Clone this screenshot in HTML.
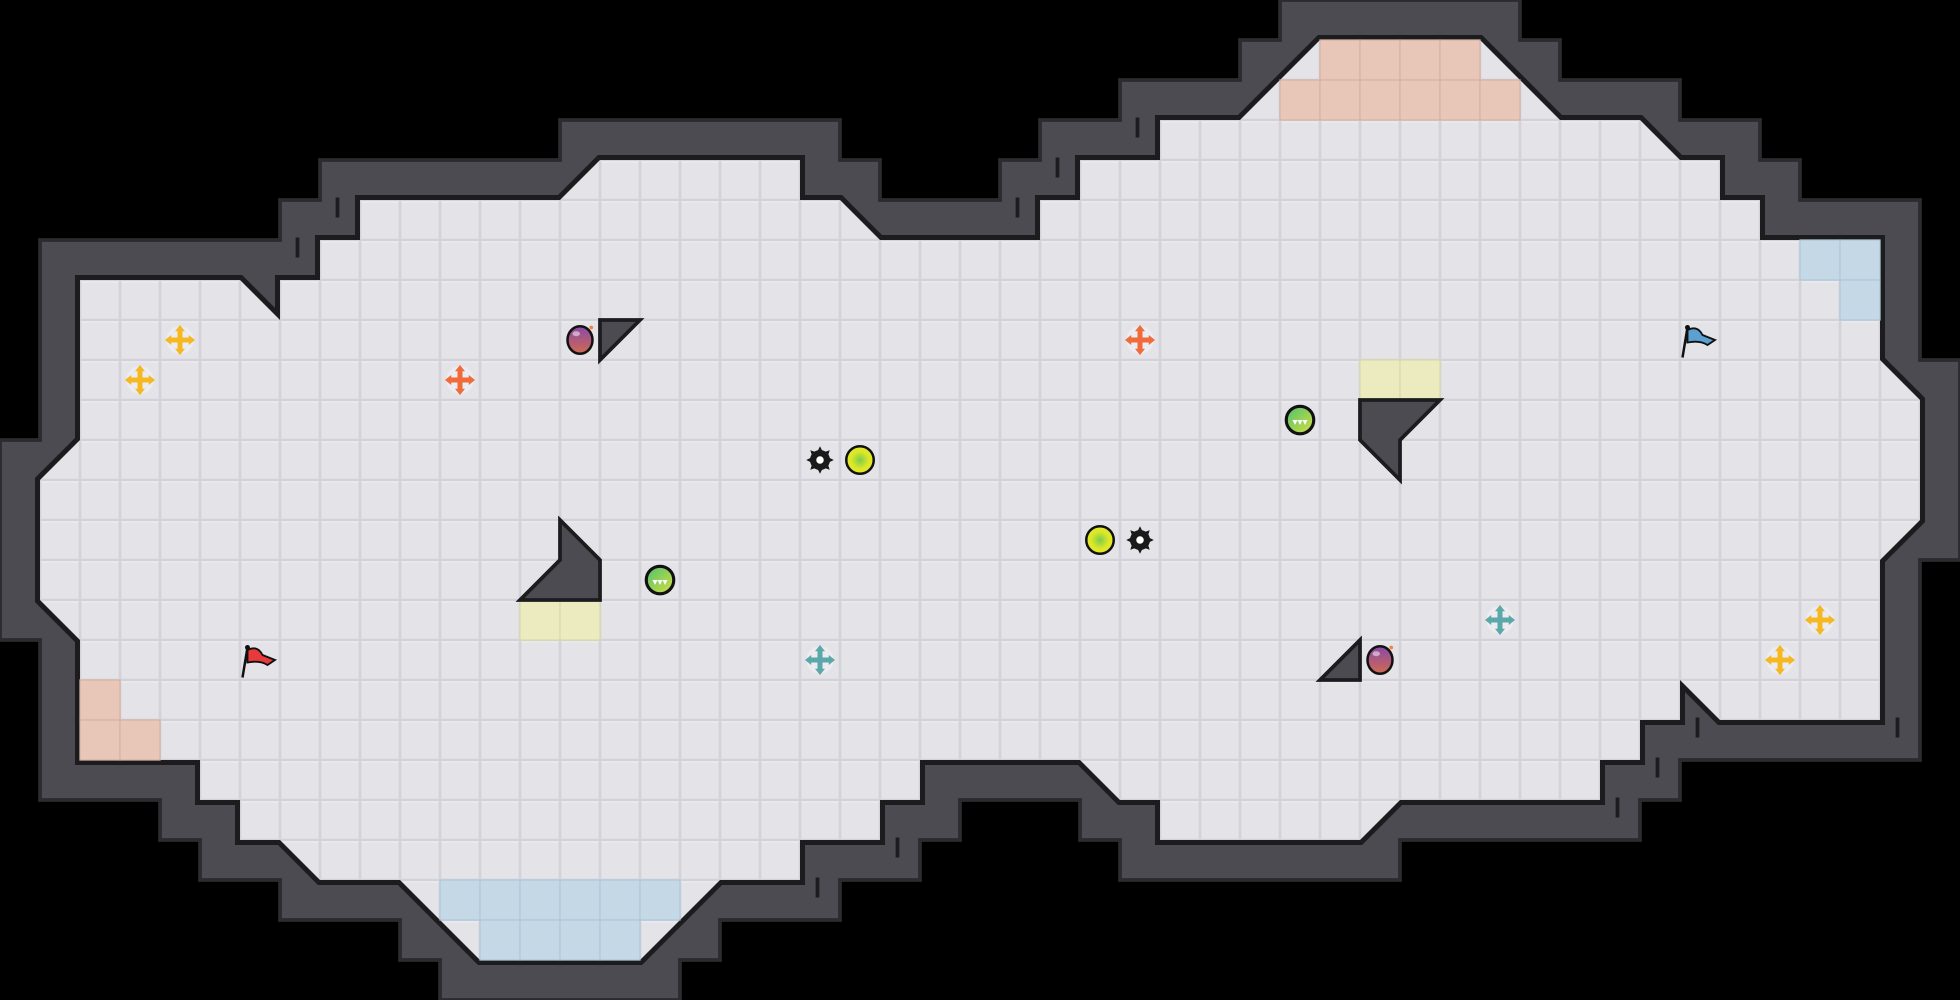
<!DOCTYPE html>
<html><head><meta charset="utf-8"><style>
html,body{margin:0;padding:0;background:#000;width:1960px;height:1000px;overflow:hidden}
svg{display:block}
</style></head><body>
<svg width="1960" height="1000" viewBox="0 0 1568 800" xmlns="http://www.w3.org/2000/svg">
<defs>
<pattern id="tile" width="32" height="32" patternUnits="userSpaceOnUse">
<rect width="32" height="32" fill="#d2d2d8"/>
<rect x="1" y="1" width="30" height="30" fill="#e3e3e8"/>
<rect x="1" y="1" width="30" height="1" fill="#ededf1"/>
</pattern>
<path id="fl" d="M64,224 L192,224 L224,256 L224,224 L256,224 L256,192 L288,192 L288,160 L448,160 L480,128 L640,128 L640,160 L672,160 L704,192 L832,192 L832,160 L864,160 L864,128 L928,128 L928,96 L992,96 L1056,32 L1184,32 L1248,96 L1312,96 L1344,128 L1376,128 L1376,160 L1408,160 L1408,192 L1504,192 L1504,288 L1536,320 L1536,416 L1504,448 L1504,576 L1376,576 L1344,544 L1344,576 L1312,576 L1312,608 L1280,608 L1280,640 L1120,640 L1088,672 L928,672 L928,640 L896,640 L864,608 L736,608 L736,640 L704,640 L704,672 L640,672 L640,704 L576,704 L512,768 L384,768 L320,704 L256,704 L224,672 L192,672 L192,640 L160,640 L160,608 L64,608 L64,512 L32,480 L32,384 L64,352 Z"/>
<radialGradient id="yg" cx="0.5" cy="0.5" r="0.5"><stop offset="0" stop-color="#7ccc4a"/><stop offset="0.6" stop-color="#d8e62a"/><stop offset="1" stop-color="#e8ec20"/></radialGradient>
<linearGradient id="gg" x1="0" y1="0" x2="1" y2="1"><stop offset="0" stop-color="#4cc070"/><stop offset="1" stop-color="#d8e040"/></linearGradient>
<linearGradient id="pg" x1="0" y1="0" x2="0" y2="1"><stop offset="0" stop-color="#8a4aa8"/><stop offset="1" stop-color="#d06a50"/></linearGradient>
<g id="cross"><circle r="11" fill="#ececf2" opacity="0.8"/>
<path d="M-2,-8 L-2,-2 L-8,-2 L-8,2 L-2,2 L-2,8 L2,8 L2,2 L8,2 L8,-2 L2,-2 L2,-8 Z"/>
<path d="M0,-12 L-4,-7 L4,-7 Z M0,12 L-4,7 L4,7 Z M-12,0 L-7,-4 L-7,4 Z M12,0 L7,-4 L7,4 Z"/></g>
<g id="gear"><circle r="8" fill="#1a1a1a"/>
<path d="M0,-11 L2,-7 L-2,-7Z M0,11 L2,7 L-2,7Z M-11,0 L-7,2 L-7,-2Z M11,0 L7,2 L7,-2Z M7.8,-7.8 L4,-6.5 L6.5,-4Z M-7.8,7.8 L-4,6.5 L-6.5,4Z M-7.8,-7.8 L-6.5,-4 L-4,-6.5Z M7.8,7.8 L6.5,4 L4,6.5Z" fill="#1a1a1a"/>
<circle r="3" fill="#fff"/></g>
<g id="yball"><circle r="11" fill="url(#yg)" stroke="#111" stroke-width="2"/></g>
<g id="gball"><circle r="11" fill="url(#gg)" stroke="#111" stroke-width="2.5"/><path d="M-6,0 L-4,4 L-2,0 L0,4 L2,0 L4,4 L6,0 Z" fill="#fff"/></g>
<g id="bomb"><ellipse rx="10" ry="11" fill="url(#pg)" stroke="#111" stroke-width="2"/><circle cx="9" cy="-10" r="1.5" fill="#f08a30"/><ellipse cx="-3" cy="-5" rx="3" ry="2" fill="#fff" opacity="0.5"/></g>
</defs>
<rect width="1568" height="800" fill="#000"/>
<path d="M32,192 L32,352 L0,352 L0,512 L32,512 L32,640 L128,640 L128,672 L160,672 L160,704 L224,704 L224,736 L320,736 L320,768 L352,768 L352,800 L544,800 L544,768 L576,768 L576,736 L672,736 L672,704 L736,704 L736,672 L768,672 L768,640 L864,640 L864,672 L896,672 L896,704 L1120,704 L1120,672 L1312,672 L1312,640 L1344,640 L1344,608 L1536,608 L1536,448 L1568,448 L1568,288 L1536,288 L1536,160 L1440,160 L1440,128 L1408,128 L1408,96 L1344,96 L1344,64 L1248,64 L1248,32 L1216,32 L1216,0 L1024,0 L1024,32 L992,32 L992,64 L896,64 L896,96 L832,96 L832,128 L800,128 L800,160 L704,160 L704,128 L672,128 L672,96 L448,96 L448,128 L256,128 L256,160 L224,160 L224,192 Z" fill="#4b4b51" stroke="#2b2b30" stroke-width="3"/>
<use href="#fl" fill="none" stroke="#1c1c1f" stroke-width="8" stroke-linejoin="miter"/>
<use href="#fl" fill="url(#tile)"/>
<g stroke="#1c1c1f" stroke-width="3">
<line x1="238" y1="190" x2="238" y2="206"/><line x1="270" y1="158" x2="270" y2="174"/>
<line x1="910" y1="94" x2="910" y2="110"/><line x1="846" y1="126" x2="846" y2="142"/><line x1="814" y1="158" x2="814" y2="174"/>
<line x1="718" y1="670" x2="718" y2="686"/><line x1="654" y1="702" x2="654" y2="718"/>
<line x1="1294" y1="638" x2="1294" y2="654"/><line x1="1326" y1="606" x2="1326" y2="622"/><line x1="1358" y1="574" x2="1358" y2="590"/><line x1="1518" y1="574" x2="1518" y2="590"/>
</g>
<g fill="#e8c6b8" stroke="#d7b2a4" stroke-width="1">
<rect x="1056" y="32" width="32" height="32"/><rect x="1088" y="32" width="32" height="32"/><rect x="1120" y="32" width="32" height="32"/><rect x="1152" y="32" width="32" height="32"/>
<rect x="1024" y="64" width="32" height="32"/><rect x="1056" y="64" width="32" height="32"/><rect x="1088" y="64" width="32" height="32"/><rect x="1120" y="64" width="32" height="32"/><rect x="1152" y="64" width="32" height="32"/><rect x="1184" y="64" width="32" height="32"/>
<rect x="64" y="544" width="32" height="32"/><rect x="64" y="576" width="32" height="32"/><rect x="96" y="576" width="32" height="32"/>
</g>
<g fill="#c4d8e6" stroke="#b0c8d8" stroke-width="1">
<rect x="1440" y="192" width="32" height="32"/><rect x="1472" y="192" width="32" height="32"/><rect x="1472" y="224" width="32" height="32"/>
<rect x="352" y="704" width="32" height="32"/><rect x="384" y="704" width="32" height="32"/><rect x="416" y="704" width="32" height="32"/><rect x="448" y="704" width="32" height="32"/><rect x="480" y="704" width="32" height="32"/><rect x="512" y="704" width="32" height="32"/>
<rect x="384" y="736" width="32" height="32"/><rect x="416" y="736" width="32" height="32"/><rect x="448" y="736" width="32" height="32"/><rect x="480" y="736" width="32" height="32"/>
</g>
<g fill="#ecebc0" stroke="#dad9aa" stroke-width="1">
<rect x="1088" y="288" width="32" height="32"/><rect x="1120" y="288" width="32" height="32"/>
<rect x="416" y="480" width="32" height="32"/><rect x="448" y="480" width="32" height="32"/>
</g>
<g fill="#4b4b51" stroke="#1c1c1f" stroke-width="3" stroke-linejoin="miter">
<path d="M480,256 L512,256 L480,288 Z"/>
<path d="M448,416 L480,448 L480,480 L416,480 L448,448 Z"/>
<path d="M1088,320 L1152,320 L1120,352 L1120,384 L1088,352 Z"/>
<path d="M1088,512 L1088,544 L1056,544 Z"/>
</g>
<use href="#cross" x="144" y="272" fill="#f5b820"/>
<use href="#cross" x="112" y="304" fill="#f5b820"/>
<use href="#cross" x="1456" y="496" fill="#f5b820"/>
<use href="#cross" x="1424" y="528" fill="#f5b820"/>
<use href="#cross" x="368" y="304" fill="#f06a3a"/>
<use href="#cross" x="912" y="272" fill="#f06a3a"/>
<use href="#cross" x="656" y="528" fill="#5aa8a8"/>
<use href="#cross" x="1200" y="496" fill="#5aa8a8"/>
<use href="#bomb" x="464" y="272"/>
<use href="#bomb" x="1104" y="528"/>
<use href="#gball" x="528" y="464"/>
<use href="#gball" x="1040" y="336"/>
<use href="#yball" x="688" y="368"/>
<use href="#yball" x="880" y="432"/>
<use href="#gear" x="656" y="368"/>
<use href="#gear" x="912" y="432"/>
<g transform="translate(194,516)">
<line x1="4" y1="2" x2="0" y2="26" stroke="#111" stroke-width="2"/>
<path d="M4,4 Q12,0 16,8 L26,12 L20,16 Q14,12 4,14 Z" fill="#e83a3a" stroke="#111" stroke-width="1.5"/>
<circle cx="4" cy="2" r="2" fill="#111"/></g>
<g transform="translate(1346,260)">
<line x1="4" y1="2" x2="0" y2="26" stroke="#111" stroke-width="2"/>
<path d="M4,4 Q12,0 16,8 L26,12 L20,16 Q14,12 4,14 Z" fill="#5aa0d0" stroke="#111" stroke-width="1.5"/>
<circle cx="4" cy="2" r="2" fill="#111"/></g>
</svg>
</body></html>
